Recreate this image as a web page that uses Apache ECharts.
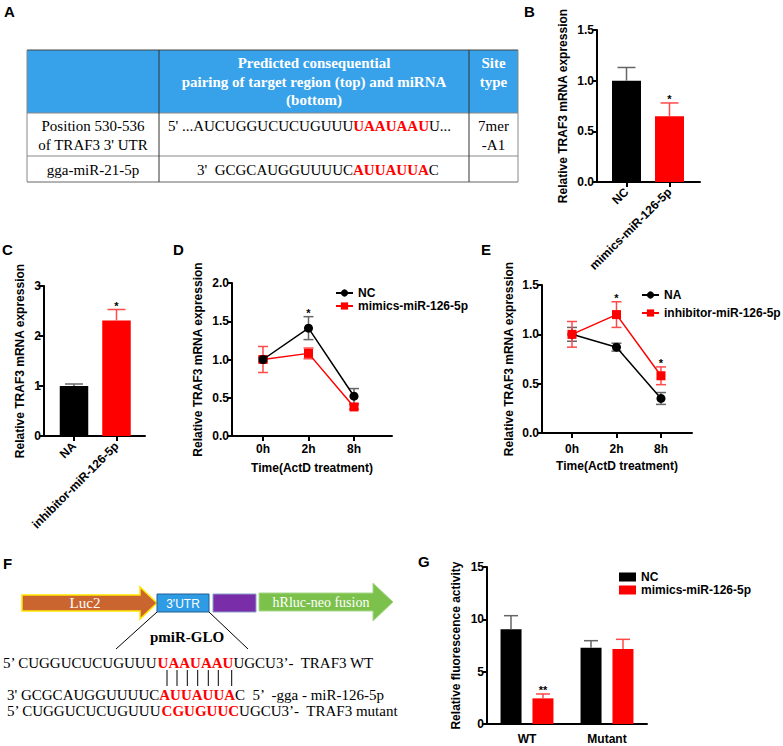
<!DOCTYPE html>
<html><head><meta charset="utf-8">
<script src="https://cdn.jsdelivr.net/npm/echarts@6/dist/echarts.min.js"></script>
<style>html,body{margin:0;padding:0;background:#fff}#c{width:783px;height:746px}</style>
</head><body><div id="c"></div>
<script>
// ---------- DATA ----------
// Panel B
const bCategories = ['NC', 'mimics-miR-126-5p'];
const bValues = [1.0, 0.65];
const bErrors = [0.13, 0.13];
const bStars = ['', '*'];
// Panel C
const cCategories = ['NA', 'inhibitor-miR-126-5p'];
const cValues = [1.0, 2.31];
const cErrors = [0.04, 0.22];
const cStars = ['', '*'];
// Panel D
const dTimes = ['0h', '2h', '8h'];
const dNC = [1.0, 1.41, 0.52];
const dNCErr = [0.03, 0.15, 0.10];
const dMimics = [1.0, 1.08, 0.38];
const dMimicsErr = [0.17, 0.07, 0.03];
const dStars = ['', '*', ''];
// Panel E
const eTimes = ['0h', '2h', '8h'];
const eNA = [1.0, 0.87, 0.35];
const eNAErr = [0.07, 0.04, 0.06];
const eInhib = [1.0, 1.20, 0.58];
const eInhibErr = [0.13, 0.13, 0.09];
const eStars = ['', '*', '*'];
// Panel G
const gGroups = ['WT', 'Mutant'];
const gNC = [9.05, 7.29];
const gNCErr = [1.30, 0.67];
const gMimics = [2.45, 7.16];
const gMimicsErr = [0.42, 0.93];
const gStars = ['**', ''];

// ---------- STYLE ----------
const SANS = '"Liberation Sans", Arial, sans-serif';
const SERIF = '"Liberation Serif", "Times New Roman", serif';
const RED = '#ff0000';
const ERR_BLACK = '#666666';
const ERR_RED = '#ff4a4a';
const lblStyle = {color: '#000', fontFamily: SANS, fontWeight: 'bold', fontSize: 12};

function yAxis(gi, max, interval, decimals, name, nameGap) {
  return {
    type: 'value', gridIndex: gi, min: 0, max: max, interval: interval,
    name: name, nameLocation: 'middle', nameGap: nameGap,
    nameTextStyle: lblStyle,
    splitLine: {show: false},
    axisLine: {show: true, onZero: false, lineStyle: {color: '#000', width: 2}},
    axisTick: {show: true, length: 5, lineStyle: {color: '#000', width: 2}},
    axisLabel: Object.assign({margin: 3, formatter: v => Number(v).toFixed(decimals)}, lblStyle)
  };
}
function valX(gi, min, max, labels, labelOpts, name, nameGap) {
  const pos = labels.map((_, i) => i + 1);
  return {
    type: 'value', gridIndex: gi, min: min, max: max,
    name: name || '', nameLocation: 'middle', nameGap: nameGap || 0,
    nameTextStyle: lblStyle,
    splitLine: {show: false},
    axisLine: {show: true, onZero: false, lineStyle: {color: '#000', width: 2}},
    axisTick: {show: true, length: 5, customValues: pos, lineStyle: {color: '#000', width: 2}},
    axisLabel: Object.assign({customValues: pos, formatter: v => labels[Math.round(v) - 1] || ''}, lblStyle, labelOpts)
  };
}
function errSeries(gi, xs, vals, errs, stars, o) {
  return {
    type: 'custom', xAxisIndex: gi, yAxisIndex: gi, z: o.z || 4, silent: true,
    data: vals.map((v, i) => [xs[i], v, errs[i]]),
    renderItem: function (params, api) {
      const i = params.dataIndex;
      const x = api.value(0), v = api.value(1), e = api.value(2);
      const t = api.coord([x, v + e]);
      const m = api.coord([x, v]);
      const b = o.both ? api.coord([x, v - e]) : m;
      const cx = t[0] + (o.offset || 0);
      const col = Array.isArray(o.color) ? o.color[i] : o.color;
      const st = {stroke: col, lineWidth: 1.5};
      const ch = [
        {type: 'line', shape: {x1: cx, y1: b[1], x2: cx, y2: t[1]}, style: st},
        {type: 'line', shape: {x1: cx - o.cap / 2, y1: t[1], x2: cx + o.cap / 2, y2: t[1]}, style: st}
      ];
      if (o.both) ch.push({type: 'line', shape: {x1: cx - o.cap / 2, y1: b[1], x2: cx + o.cap / 2, y2: b[1]}, style: st});
      if (stars && stars[i]) ch.push({type: 'text', style: {x: cx, y: t[1] - 4, text: stars[i], align: 'center', verticalAlign: 'middle', fill: '#000', font: 'bold 11px ' + SANS}});
      return {type: 'group', children: ch};
    }
  };
}
const idx = a => a.map((_, i) => i + 1);

// ---------- GRAPHICS (table A, diagram F, panel letters) ----------
function T(x, y, text, font, o) {
  o = o || {};
  return {type: 'text', x: x, y: y, silent: true,
    style: {text: text, font: font, fill: o.fill || '#000', align: o.align || 'left', verticalAlign: o.va || 'middle', rich: o.rich}};
}
function L(x1, y1, x2, y2, color, w) {
  return {type: 'line', silent: true, shape: {x1: x1, y1: y1, x2: x2, y2: y2}, style: {stroke: color, lineWidth: w || 1}};
}
const LET = 'bold 15px ' + SANS;
const TF = '15px ' + SERIF;
const TFB = 'bold 15px ' + SERIF;
const seqRich = {
  k: {fontFamily: SERIF, fontSize: 15, fill: '#000'},
  r: {fontFamily: SERIF, fontSize: 15, fontWeight: 'bold', fill: RED}
};
const graphics = [
  // letters
  T(4, 11, 'A', LET), T(524, 11, 'B', LET), T(2, 249, 'C', LET), T(173, 249, 'D', LET),
  T(481, 249, 'E', LET), T(3, 563, 'F', LET), T(418, 561, 'G', LET),
  // table A
  {type: 'rect', silent: true, shape: {x: 27, y: 50, width: 491, height: 63}, style: {fill: '#37A2EA'}},
  L(27, 50, 518, 50, '#444'), L(27, 182, 518, 182, '#666'),
  L(27, 50, 27, 182, '#888'), L(518, 50, 518, 182, '#888'),
  L(27, 113, 518, 113, '#888'), L(27, 156, 518, 156, '#888'),
  L(159, 50, 159, 182, '#333'), L(469, 50, 469, 182, '#333'),
  T(314, 63, 'Predicted consequential', TFB, {fill: '#fff', align: 'center'}),
  T(314, 82, 'pairing of target region (top) and miRNA', TFB, {fill: '#fff', align: 'center'}),
  T(314, 100, '(bottom)', TFB, {fill: '#fff', align: 'center'}),
  T(493.5, 63, 'Site', TFB, {fill: '#fff', align: 'center'}),
  T(493.5, 82, 'type', TFB, {fill: '#fff', align: 'center'}),
  T(93, 126, 'Position 530-536', TF, {align: 'center'}),
  T(93, 145, "of TRAF3 3' UTR", TF, {align: 'center'}),
  T(168, 126, "{k|5' ...AUCUGGUCUCUGUUU}{r|UAAUAAU}{k|U...}", TF, {rich: seqRich}),
  T(493.5, 126, '7mer', TF, {align: 'center'}),
  T(493.5, 145, '-A1', TF, {align: 'center'}),
  T(93, 170, 'gga-miR-21-5p', TF, {align: 'center'}),
  T(197, 170, "{k|3'  GCGCAUGGUUUUC}{r|AUUAUUA}{k|C}", TF, {rich: seqRich}),
  // diagram F
  {type: 'polygon', silent: true, shape: {points: [[22, 595], [140, 595], [140, 587], [157, 603], [140, 619], [140, 611], [22, 611]]},
    style: {fill: '#CB6530', stroke: '#FFE600', lineWidth: 1.5}},
  T(85, 603, 'Luc2', '15px ' + SERIF, {fill: '#fff', align: 'center'}),
  {type: 'rect', silent: true, shape: {x: 157, y: 594, width: 52, height: 18}, style: {fill: '#2E9BE5', stroke: '#235f94', lineWidth: 1}},
  T(183, 603.5, "3'UTR", '12px ' + SANS, {fill: '#fff', align: 'center'}),
  {type: 'rect', silent: true, shape: {x: 213, y: 594, width: 43, height: 18}, style: {fill: '#7A2DA8', stroke: '#8a9fc8', lineWidth: 1}},
  {type: 'polygon', silent: true, shape: {points: [[259, 593], [373, 593], [373, 583], [393, 602], [373, 621], [373, 611], [259, 611]]},
    style: {fill: '#7CC14C', stroke: '#a8d88a', lineWidth: 1}},
  T(321, 602, 'hRluc-neo fusion', '14px ' + SERIF, {fill: '#fff', align: 'center'}),
  L(157, 612, 116, 649, '#000'), L(209, 612, 248, 649, '#000'),
  T(187, 637, 'pmiR-GLO', TFB, {align: 'center'}),
  T(3, 663, "{k|5\u2019 CUGGUCUCUGUUU}{r|UAAUAAU}{k|UGCU3\u2019-  TRAF3 WT}", TF, {rich: seqRich}),
  L(167, 670, 167, 686, '#000'), L(177, 670, 177, 686, '#000'), L(187.3, 670, 187.3, 686, '#000'),
  L(197.7, 670, 197.7, 686, '#000'), L(208.3, 670, 208.3, 686, '#000'), L(218.3, 670, 218.3, 686, '#000'),
  L(231.7, 670, 231.7, 686, '#000'),
  T(7, 695, "{k|3' GCGCAUGGUUUUC}{r|AUUAUUA}{k|C  5\u2019  -gga - miR-126-5p}", TF, {rich: seqRich}),
  T(7, 711, "{k|5\u2019 CUGGUCUCUGUUU}{r|CGUGUUC}{k|UGCU3\u2019-  TRAF3 mutant}", TF, {rich: seqRich})
];

// ---------- CHART ----------
const chart = echarts.init(document.getElementById('c'), null, {renderer: 'svg'});
const legendText = {fontFamily: SANS, fontWeight: 'bold', fontSize: 12, color: '#000'};
chart.setOption({
  animation: false,
  backgroundColor: '#fff',
  graphic: graphics,
  grid: [
    {left: 597, top: 30, width: 103, height: 152},
    {left: 44, top: 286, width: 101, height: 150},
    {left: 232, top: 283, width: 160, height: 153},
    {left: 542, top: 285, width: 150, height: 148},
    {left: 487, top: 567, width: 160, height: 157}
  ],
  xAxis: [
    valX(0, 0.314, 2.709, bCategories, {rotate: 45, margin: 8}),
    valX(1, 0.294, 2.671, cCategories, {rotate: 45, margin: 8}),
    valX(2, 0.319, 3.835, dTimes, {margin: 7}, 'Time(ActD treatment)', 26),
    valX(3, 0.326, 3.697, eTimes, {margin: 10}, 'Time(ActD treatment)', 27),
    {type: 'category', gridIndex: 4, data: gGroups,
      axisLine: {show: true, onZero: false, lineStyle: {color: '#000', width: 2}},
      axisTick: {show: false}, splitLine: {show: false},
      axisLabel: Object.assign({margin: 9}, lblStyle)}
  ],
  yAxis: [
    yAxis(0, 1.5, 0.5, 1, 'Relative TRAF3 mRNA expression', 28),
    yAxis(1, 3, 1, 0, 'Relative TRAF3 mRNA expression', 18),
    yAxis(2, 2.0, 0.5, 1, 'Relative TRAF3 mRNA expression', 28),
    yAxis(3, 1.5, 0.5, 1, 'Relative TRAF3 mRNA expression', 27),
    yAxis(4, 15, 5, 0, 'Relative fluorescence activity', 25)
  ],
  legend: [
    {data: ['D:NC', 'D:mimics-miR-126-5p'], left: 335, top: 287, orient: 'vertical', padding: 0,
      itemWidth: 17, itemHeight: 9, itemGap: 1, selectedMode: false, formatter: n => n.slice(2), textStyle: legendText},
    {data: ['E:NA', 'E:inhibitor-miR-126-5p'], left: 641, top: 289, orient: 'vertical', padding: 0,
      itemWidth: 17, itemHeight: 9, itemGap: 6, selectedMode: false, formatter: n => n.slice(2), textStyle: legendText},
    {data: ['G:NC', 'G:mimics-miR-126-5p'], left: 619, top: 571, orient: 'vertical', padding: 0, icon: 'rect',
      itemWidth: 17, itemHeight: 9, itemGap: 1, selectedMode: false, formatter: n => n.slice(2), textStyle: legendText}
  ],
  series: [
    // B
    {type: 'bar', xAxisIndex: 0, yAxisIndex: 0, barWidth: 29, z: 2,
      data: bValues.map((v, i) => ({value: [i + 1, v], itemStyle: {color: i === 0 ? '#000' : RED}}))},
    errSeries(0, idx(bValues), bValues, bErrors, bStars, {color: [ERR_BLACK, ERR_RED], cap: 18}),
    // C
    {type: 'bar', xAxisIndex: 1, yAxisIndex: 1, barWidth: 28.5, z: 2,
      data: cValues.map((v, i) => ({value: [i + 1, v], itemStyle: {color: i === 0 ? '#000' : RED}}))},
    errSeries(1, idx(cValues), cValues, cErrors, cStars, {color: [ERR_BLACK, ERR_RED], cap: 18}),
    // D
    errSeries(2, idx(dNC), dNC, dNCErr, dStars, {color: ERR_BLACK, cap: 10, both: true, z: 2}),
    errSeries(2, idx(dMimics), dMimics, dMimicsErr, null, {color: ERR_RED, cap: 10, both: true, z: 2}),
    {type: 'line', name: 'D:NC', xAxisIndex: 2, yAxisIndex: 2, z: 6,
      data: dNC.map((v, i) => [i + 1, v]), symbol: 'circle', symbolSize: 9,
      itemStyle: {color: '#000'}, lineStyle: {color: '#000', width: 1.5}},
    {type: 'line', name: 'D:mimics-miR-126-5p', xAxisIndex: 2, yAxisIndex: 2, z: 5,
      data: dMimics.map((v, i) => [i + 1, v]), symbol: 'rect', symbolSize: 9,
      itemStyle: {color: RED}, lineStyle: {color: RED, width: 1.5}},
    // E
    errSeries(3, idx(eNA), eNA, eNAErr, null, {color: ERR_BLACK, cap: 10, both: true, z: 2}),
    errSeries(3, idx(eInhib), eInhib, eInhibErr, eStars, {color: ERR_RED, cap: 10, both: true, z: 2}),
    {type: 'line', name: 'E:NA', xAxisIndex: 3, yAxisIndex: 3, z: 5,
      data: eNA.map((v, i) => [i + 1, v]), symbol: 'circle', symbolSize: 9,
      itemStyle: {color: '#000'}, lineStyle: {color: '#000', width: 1.5}},
    {type: 'line', name: 'E:inhibitor-miR-126-5p', xAxisIndex: 3, yAxisIndex: 3, z: 6,
      data: eInhib.map((v, i) => [i + 1, v]), symbol: 'rect', symbolSize: 9,
      itemStyle: {color: RED}, lineStyle: {color: RED, width: 1.5}},
    // G
    {type: 'bar', name: 'G:NC', xAxisIndex: 4, yAxisIndex: 4, barWidth: 21, barGap: '52%', z: 2,
      data: gNC, itemStyle: {color: '#000'}},
    {type: 'bar', name: 'G:mimics-miR-126-5p', xAxisIndex: 4, yAxisIndex: 4, barWidth: 21, barGap: '52%', z: 2,
      data: gMimics, itemStyle: {color: RED}},
    errSeries(4, [0, 1], gNC, gNCErr, null, {color: ERR_BLACK, cap: 14, offset: -16}),
    errSeries(4, [0, 1], gMimics, gMimicsErr, gStars, {color: ERR_RED, cap: 14, offset: 16})
  ]
});
</script></body></html>
